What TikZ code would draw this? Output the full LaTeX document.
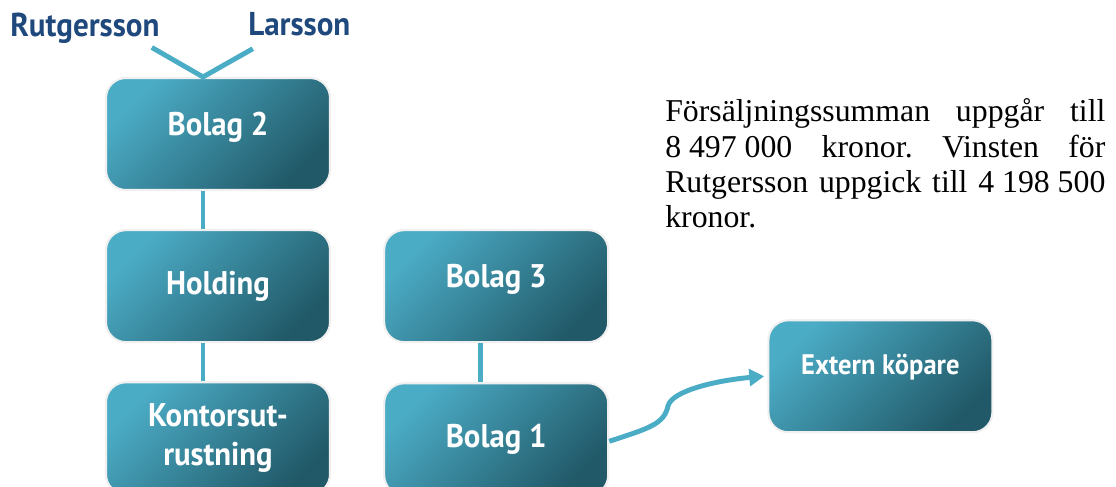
\documentclass[tikz,border=0pt]{standalone}
\usepackage{fontspec}
\setmainfont{Liberation Serif}
\newfontfamily\boxfont[FakeStretch=0.94]{PT Sans}
\usetikzlibrary{arrows.meta,positioning}
\definecolor{boxlight}{HTML}{4BACC6}
\definecolor{boxdark}{HTML}{215968}
\definecolor{namecol}{HTML}{1F497D}

\begin{document}
\begin{tikzpicture}[x=0.025cm, y=0.025cm]
        \tikzstyle{box} = [rectangle, rounded corners=0.5cm, draw=black!6, line width=1.5pt, top color=boxlight, bottom color=boxdark, shading angle=45, minimum width=5.6cm, minimum height=2.8cm, text=white, align=center, font=\boxfont\bfseries\fontsize{23.3}{28}\selectfont]
        \tikzstyle{raised} = [text height=0.6cm, text depth=0.53cm]
        \tikzstyle{person} = [inner sep=0pt, text=namecol, font=\boxfont\bfseries\fontsize{23.5}{27}\selectfont]
        \tikzstyle{link} = [draw=boxlight, line width=3.5pt]
        \tikzstyle{arrow} = [link, -{Triangle[length=0.37cm, width=0.42cm]}]
        \useasboundingbox (0,0) rectangle (1116,486);
        \node (rut) [person, anchor=base west] at (10,449) {Rutgersson};
        \node (lar) [person, anchor=base west] at (248,450) {Larsson};
        \node (b2) [box, raised] at (218,352) {Bolag 2};
        \node (hold) [box, below=0.95cm of b2] {Holding};
        \node (kont) [box, below=0.95cm of hold] {Kontorsut-\\rustning};
        \node (b3) [box, raised, right=1.3cm of hold] {Bolag 3};
        \node (b1) [box, below=0.975cm of b3] {Bolag 1};
        \node (ext) [box, right=3.95cm of b1, yshift=1.575cm, text height=0.5cm, text depth=0.57cm, font=\boxfont\bfseries\fontsize{20.1}{24}\selectfont] {Extern köpare};
        \node (txt) [anchor=north west, inner sep=0pt, text width=11cm, align=justify, font=\fontsize{22.6}{25}\selectfont\frenchspacing] at (665,389)
            {\strut Försäljningssumman uppgår till\linebreak 8\hspace{0.25em}497\hspace{0.25em}000 kronor. Vinsten för\linebreak Rutgersson uppgick till 4\hspace{0.25em}198\hspace{0.25em}500\linebreak kronor.};
        \draw[link] ([shift={(-0.2cm,-0.08cm)}]rut.south east) -- ([xshift=-0.375cm]b2.north) -- ([shift={(0.12cm,-0.3cm)}]lar.south west);
        \draw[link] ([xshift=-0.375cm]b2.south) -- ([xshift=-0.375cm]hold.north);
        \draw[link] ([xshift=-0.375cm]hold.south) -- ([xshift=-0.375cm]kont.north);
        \draw[link] ([xshift=-0.4cm]b3.south) -- ([xshift=-0.4cm]b1.north);
        \draw[arrow] ([yshift=-0.05cm]b1.east) .. controls (650,58) and (664,62) .. (668,80) .. controls (672,96) and (720,106) .. ([xshift=-0.08cm]ext.west);
\end{tikzpicture}
\end{document}
